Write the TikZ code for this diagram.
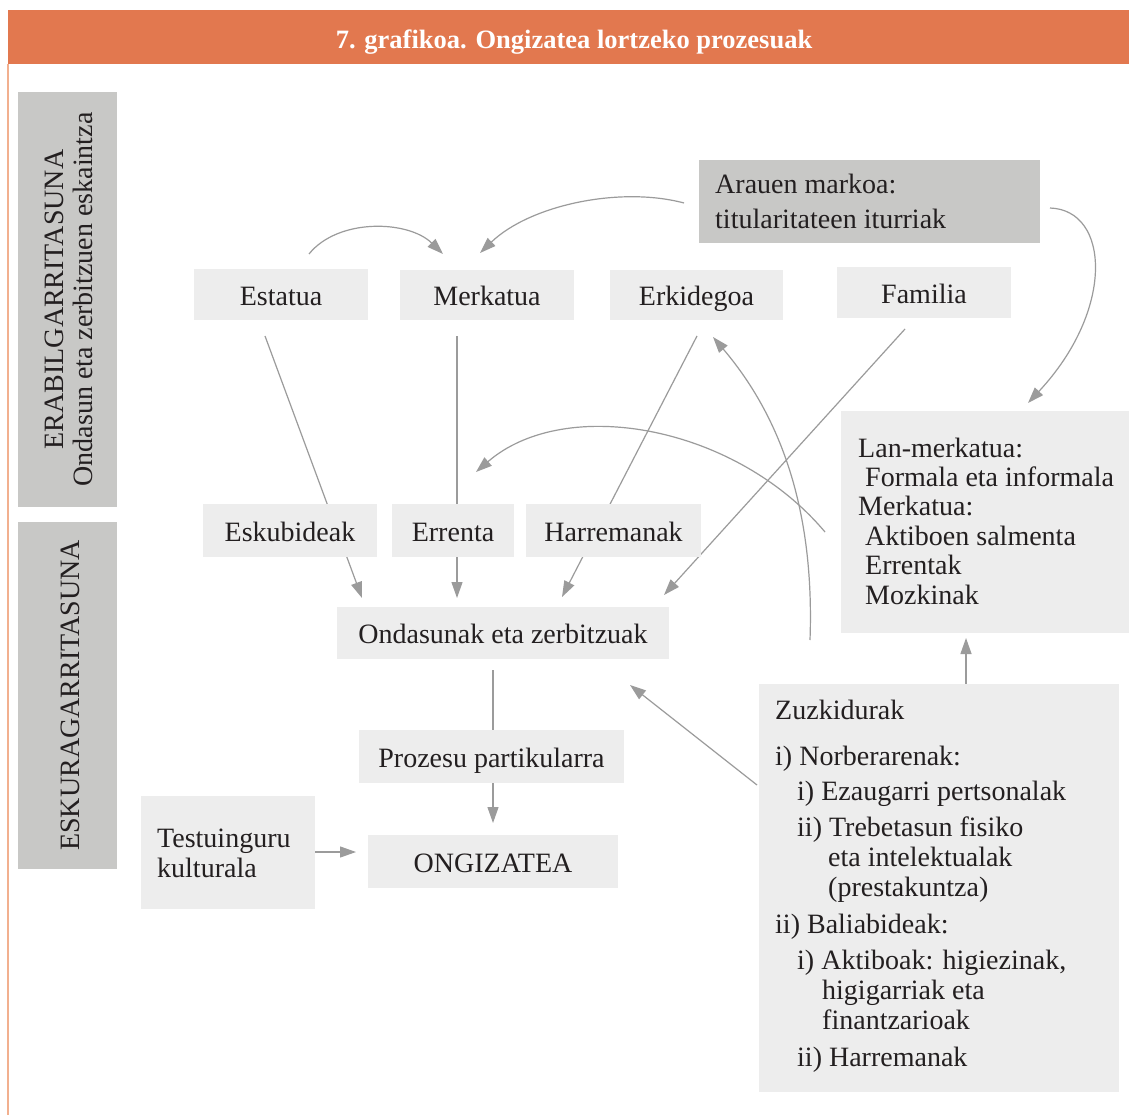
\documentclass[tikz,border=0pt]{standalone}
\usepackage{fontspec}
\setmainfont{Liberation Serif}
\usetikzlibrary{arrows.meta}
\pgfdeclarelayer{bg}
\pgfdeclarelayer{paper}
\pgfsetlayers{paper,bg,main}
\definecolor{orangebar}{HTML}{E2784F}
\definecolor{orangeline}{HTML}{F2B08F}
\definecolor{darkbox}{HTML}{C8C8C6}
\definecolor{lightbox}{HTML}{EDEDED}
\definecolor{conncol}{HTML}{9B9B9B}
\definecolor{txt}{HTML}{231F20}
\begin{document}
\begin{tikzpicture}[x=1pt,y=-1pt,
  every node/.style={text=txt, font=\fontsize{28}{30}\selectfont, inner sep=0pt},
  sbox/.style={fill=lightbox, text height=21pt, text depth=0pt},
  fillbox/.style={fill=lightbox},
  sidebox/.style={fill=darkbox, minimum width=99pt},
  conn/.style={draw=conncol, line width=1.2pt, -{Triangle[length=16pt,width=11pt]}},
  link/.style={draw=conncol, line width=1.2pt}]
\begin{pgfonlayer}{paper}
\fill[white] (0,0) rectangle (1129,1115);
\end{pgfonlayer}
\useasboundingbox (0,0) rectangle (1129,1115);
% title
\node[fill=orangebar, minimum width=1121pt, minimum height=54pt, anchor=north west] (titlebar) at (8,10) {};
\node[text=white, font=\fontsize{26.5}{30}\selectfont\bfseries, anchor=base] (title) at (574,49) {7. grafikoa. Ongizatea lortzeko prozesuak};
\draw[orangeline, line width=1.5pt] (8,64) -- (8,1115);
% side boxes
\node[sidebox, minimum height=415pt] (side1) at (67.5,299.5) {};
\node[rotate=90, align=center, font=\fontsize{28}{29}\selectfont] (side1text) at (69,299.5) {ERABILGARRITASUNA\\Ondasun eta zerbitzuen eskaintza};
\node[sidebox, minimum height=347pt] (side2) at (67.5,695.5) {};
\node[rotate=90, font=\fontsize{28}{30}\selectfont] (side2text) at (70,695.5) {ESKURAGARRITASUNA};
% top row
\node[sbox, minimum width=174pt, minimum height=51pt] (estatua) at (281,294.5) {Estatua};
\node[sbox, minimum width=174pt, minimum height=50pt] (merkatua) at (487,295) {Merkatua};
\node[sbox, minimum width=173pt, minimum height=50pt] (erkidegoa) at (696.5,295) {Erkidegoa};
\node[sbox, minimum width=174pt, minimum height=51pt] (familia) at (924,292.5) {Familia};
% arauen
\node[fill=darkbox, minimum width=341pt, minimum height=83pt] (arauen) at (869.5,201.5) {};
\node[anchor=west, align=left, font=\fontsize{28}{35}\selectfont] (arauentext) at (715,201) {Arauen markoa:\\titularitateen iturriak};
% lan-merkatua
\node[fillbox, minimum width=288pt, minimum height=222pt] (lan) at (985,522) {};
\node[anchor=west, align=left, font=\fontsize{28}{29.4}\selectfont] (lantext) at (858,521) {Lan-merkatua:\\\hspace*{7pt}Formala eta informala\\Merkatua:\\\hspace*{7pt}Aktiboen salmenta\\\hspace*{7pt}Errentak\\\hspace*{7pt}Mozkinak};
% middle row
\node[sbox, minimum width=174pt, minimum height=53pt] (eskubideak) at (290,530.5) {Eskubideak};
\node[sbox, minimum width=122pt, minimum height=53pt] (errenta) at (453,530.5) {Errenta};
\node[sbox, minimum width=175pt, minimum height=53pt] (harremanak) at (613.5,530.5) {Harremanak};
\node[sbox, minimum width=332pt, minimum height=52pt] (ondasunak) at (503,633) {Ondasunak eta zerbitzuak};
\node[sbox, minimum width=265pt, minimum height=53pt] (prozesu) at (491.5,756.5) {Prozesu partikularra};
\node[sbox, minimum width=250pt, minimum height=53pt] (ongizatea) at (493,861.5) {ONGIZATEA};
\node[fillbox, minimum width=174pt, minimum height=113pt] (testuinguru) at (228,852.5) {};
\node[anchor=west, align=left, font=\fontsize{28}{30}\selectfont] (testtext) at (157,853.5) {Testuinguru\\kulturala};
% zuzkidurak
\node[fillbox, minimum width=360pt, minimum height=408pt] (zuz) at (939,888) {};
\node[anchor=west, align=left, font=\fontsize{28}{30}\selectfont] (zuztext) at (775,886.5) {Zuzkidurak\\[16pt]i) Norberarenak:\\[5pt]\hspace*{22pt}i) Ezaugarri pertsonalak\\[6pt]\hspace*{22pt}ii) Trebetasun fisiko\\\hspace*{53pt}eta intelektualak\\\hspace*{53pt}(prestakuntza)\\[7pt]ii) Baliabideak:\\[6pt]\hspace*{22pt}i) Aktiboak: higiezinak,\\\hspace*{47pt}higigarriak eta\\\hspace*{47pt}finantzarioak\\[7pt]\hspace*{22pt}ii) Harremanak};
% connector end points
\coordinate (estA) at (309,254);
\coordinate (merA) at (443,254);
\coordinate (arL) at (684,203);
\coordinate (merB) at (480,253);
\coordinate (arR) at (1050,208);
\coordinate (lanT) at (1028,403);
\coordinate (estB) at (265,336);
\coordinate (ondA) at (362,598);
\coordinate (merC) at (457,336);
\coordinate (ondB) at (457,598);
\coordinate (erkB) at (697,336);
\coordinate (ondC) at (562,597);
\coordinate (famB) at (905,329);
\coordinate (ondD) at (664,595);
\coordinate (lanL) at (825,532);
\coordinate (errT) at (476,472);
\coordinate (zuzS) at (810,640);
\coordinate (erkC) at (713,337);
\coordinate (zuzL) at (757,785);
\coordinate (ondE) at (630,685);
\coordinate (zuzT) at (966,684);
\coordinate (lanB) at (966,638);
\coordinate (ondF) at (493,670);
\coordinate (proT) at (493,730);
\coordinate (proB) at (493,783);
\coordinate (ongT) at (493,823);
\coordinate (tesR) at (315,852);
\coordinate (ongL) at (356,852);
\begin{pgfonlayer}{bg}
\draw[conn] (estA) .. controls (338,218) and (408,220) .. (merA);
\draw[conn] (arL) .. controls (620,186) and (530,205) .. (merB);
\draw[conn] (arR) .. controls (1110,210) and (1115,310) .. (lanT);
\draw[conn] (estB) -- (ondA);
\draw[conn] (merC) -- (ondB);
\draw[conn] (erkB) -- (ondC);
\draw[conn] (famB) -- (ondD);
\draw[conn] (lanL) .. controls (735,425) and (565,395) .. (errT);
\draw[conn] (zuzS) .. controls (815,500) and (775,410) .. (erkC);
\draw[conn] (zuzL) -- (ondE);
\draw[conn] (zuzT) -- (lanB);
\draw[link] (ondF) -- (proT);
\draw[conn] (proB) -- (ongT);
\draw[conn] (tesR) -- (ongL);
\end{pgfonlayer}
\end{tikzpicture}
\end{document}
